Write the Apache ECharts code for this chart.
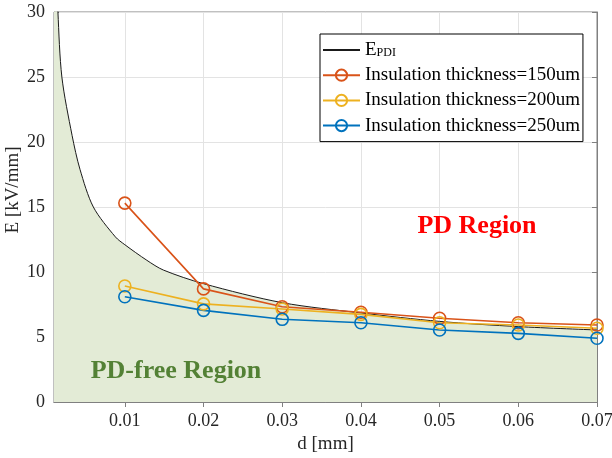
<!DOCTYPE html>
<html><head><meta charset="utf-8">
<script src="https://cdn.jsdelivr.net/npm/echarts@6/dist/echarts.min.js"></script>
<style>html,body{margin:0;padding:0;background:#fff}#c{width:612px;height:458px}</style>
</head><body><div id="c"></div>
<script>
const dValues = [0.01, 0.02, 0.03, 0.04, 0.05, 0.06, 0.07];
const xTicks = [0.01, 0.02, 0.03, 0.04, 0.05, 0.06, 0.07];
const yTicks = [0, 5, 10, 15, 20, 25, 30];
const t150 = [15.3, 8.7, 7.33, 6.9, 6.44, 6.1, 5.92];
const t200 = [8.92, 7.55, 7.15, 6.74, 6.1, 5.92, 5.67];
const t250 = [8.1, 7.05, 6.36, 6.1, 5.54, 5.28, 4.9];
const pdiD = [0.001, 0.0015, 0.002, 0.0033, 0.0043, 0.006, 0.0088, 0.01, 0.0128, 0.0149, 0.02, 0.03, 0.04, 0.05, 0.06, 0.07];
const pdiE = [38, 30, 25, 20.5, 17.9, 15, 12.7, 12.1, 10.9, 10.15, 9.1, 7.64, 6.85, 6.2, 5.8, 5.54];
const names = ['E_PDI', 'Insulation thickness=150um', 'Insulation thickness=200um', 'Insulation thickness=250um'];

const serif = '"Liberation Serif", "Times New Roman", serif';
const chart = echarts.init(document.getElementById('c'), null, {renderer: 'canvas'});
const zip = (xs, ys) => xs.map((x, i) => [x, ys[i]]);
const markerSeries = (name, vals, color) => ({
  name, type: 'line', data: zip(dValues, vals), symbol: 'circle', symbolSize: 12,
  lineStyle: {color, width: 1.6}, itemStyle: {color: 'rgba(255,255,255,0)', borderColor: color, borderWidth: 1.6}, z: 5
});
chart.setOption({
  animation: false,
  grid: {left: 54, right: 15, top: 12, bottom: 56, show: true, borderColor: '#808080', borderWidth: 1, outerBoundsMode: 'none', containLabel: false},
  legend: {
    orient: 'vertical', left: 320, top: 34, z: 20,
    backgroundColor: '#fff', borderColor: '#000', borderWidth: 1,
    padding: [6.5, 3, 6.5, 2], itemWidth: 37, itemHeight: 14, itemGap: 6.2,
    data: names,
    formatter: n => n === 'E_PDI' ? '{m|E}{s|PDI}' : n,
    textStyle: {fontFamily: serif, fontSize: 19, color: '#000', lineHeight: 18,
      rich: {m: {fontFamily: serif, fontSize: 19, color: '#000', lineHeight: 18},
             s: {fontFamily: serif, fontSize: 12, color: '#000', lineHeight: 18, padding: [5, 0, 0, 0]}}}
  },
  xAxis: [{
    type: 'value', min: 0.001, max: 0.07,
    name: 'd [mm]', nameLocation: 'middle', nameGap: 29,
    nameTextStyle: {fontFamily: serif, fontSize: 19, color: '#262626'},
    axisLine: {show: true, lineStyle: {color: '#808080'}},
    axisTick: {inside: true, length: 5, customValues: xTicks, lineStyle: {color: '#808080'}},
    axisLabel: {customValues: xTicks, fontFamily: serif, fontSize: 18, color: '#262626', margin: 10,
      formatter: v => v.toFixed(2)},
    splitLine: {show: true, lineStyle: {color: '#e3e3e3', width: 1}}
  }, {
    type: 'value', min: 0.001, max: 0.07, position: 'top',
    axisLine: {show: true, lineStyle: {color: '#808080'}},
    axisTick: {inside: true, length: 5, customValues: xTicks, lineStyle: {color: '#808080'}},
    axisLabel: {show: false}, splitLine: {show: false}
  }],
  yAxis: [{
    type: 'value', min: 0, max: 30, interval: 5,
    axisLine: {show: true, lineStyle: {color: '#808080'}},
    axisTick: {show: true, inside: true, length: 5, lineStyle: {color: '#808080'}},
    axisLabel: {fontFamily: serif, fontSize: 18, color: '#262626', margin: 9},
    splitLine: {show: true, lineStyle: {color: '#e3e3e3', width: 1}}
  }, {
    type: 'value', min: 0, max: 30, interval: 5, position: 'right',
    axisLine: {show: true, lineStyle: {color: '#808080'}},
    axisTick: {show: true, inside: true, length: 5, lineStyle: {color: '#808080'}},
    axisLabel: {show: false}, splitLine: {show: false}
  }],
  series: [
    {name: 'E_PDI', type: 'line', data: zip(pdiD, pdiE), smooth: 0.3, symbol: 'none',
     lineStyle: {color: '#1a1a1a', width: 1},
     itemStyle: {color: 'rgba(0,0,0,0)', borderColor: 'rgba(0,0,0,0)', borderWidth: 0},
     areaStyle: {color: '#e3ebd6', opacity: 1, origin: 'start'}, z: 2},
    markerSeries(names[1], t150, '#D95319'),
    markerSeries(names[2], t200, '#EDB120'),
    markerSeries(names[3], t250, '#0072BD')
  ],
  graphic: [
    {type: 'text', x: 13, y: 190, rotation: Math.PI / 2, z: 100,
     style: {text: 'E [kV/mm]', fill: '#262626', font: '19px ' + serif, align: 'center', verticalAlign: 'middle'}},
    {type: 'text', x: 477, y: 226, z: 100, style: {text: 'PD Region', fill: '#ff0000', font: 'bold 26px ' + serif, align: 'center', verticalAlign: 'middle'}},
    {type: 'text', x: 176, y: 371, z: 100, style: {text: 'PD-free Region', fill: '#538135', font: 'bold 26px ' + serif, align: 'center', verticalAlign: 'middle'}}
  ]
});
</script></body></html>
